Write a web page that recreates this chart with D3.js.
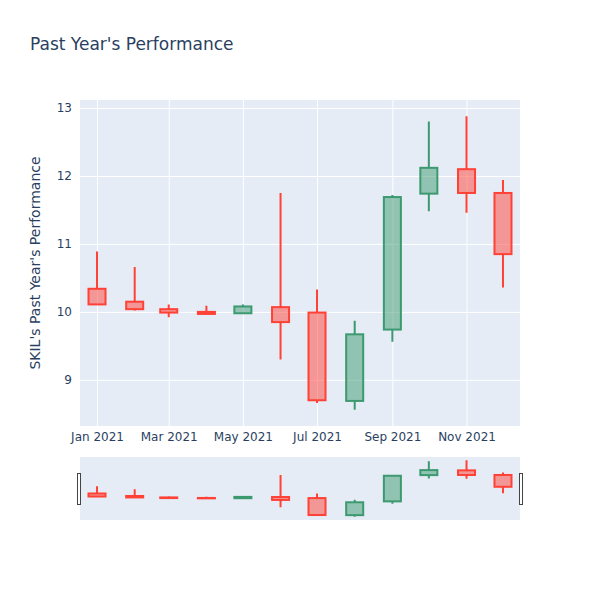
<!DOCTYPE html>
<html>
<head>
<meta charset="utf-8">
<script src="https://cdn.jsdelivr.net/npm/d3@7"></script>
<style>
  body { margin: 0; background: #fff; }
  text { font-family: "DejaVu Sans", "Open Sans", sans-serif; fill: #2a3f5f; }
</style>
</head>
<body>
<div id="chart"></div>
<script>
// monthly candles, first of each month
var dates = ["2021-01-01", "2021-02-01", "2021-03-01", "2021-04-01", "2021-05-01", "2021-06-01",
             "2021-07-01", "2021-08-01", "2021-09-01", "2021-10-01", "2021-11-01", "2021-12-01"];
var open  = [10.34, 10.15, 10.04, 10.00, 9.98, 10.07, 9.99, 8.69, 9.74, 11.74, 12.10, 11.75];
var high  = [10.89, 10.66, 10.11, 10.09, 10.11, 11.75, 10.33, 9.87, 11.72, 12.80, 12.88, 11.94];
var low   = [10.10, 10.02, 9.92, 9.96, 9.98, 9.30, 8.66, 8.56, 9.56, 11.48, 11.46, 10.36];
var close = [10.11, 10.04, 9.99, 9.97, 10.08, 9.85, 8.70, 9.67, 11.69, 12.12, 11.75, 10.85];
var yTicks = [9, 10, 11, 12, 13];
var xTickDates = ["2021-01-01", "2021-03-01", "2021-05-01", "2021-07-01", "2021-09-01", "2021-11-01"];

var parse = d3.timeParse("%Y-%m-%d");
var data = dates.map(function(d, i) {
    return {date: parse(d), open: open[i], high: high[i], low: low[i], close: close[i]};
});

var W = 600, H = 600;
var margin = {left: 80, right: 80, top: 100};
var plotH = 326, sliderTop = 457, sliderH = 63;

var incColor = "#3D9970", decColor = "#FF4136";
var halfDay = 14;  // half of the smallest gap between candles

var x = d3.scaleTime()
    .domain([d3.timeDay.offset(data[0].date, -halfDay), d3.timeDay.offset(data[data.length - 1].date, halfDay)])
    .range([margin.left, W - margin.right]);

var y = d3.scaleLinear()
    .domain([8.321, 13.118])
    .range([margin.top + plotH, margin.top]);

var ySlider = y.copy().range([sliderTop + sliderH, sliderTop]);

var svg = d3.select("#chart").append("svg")
    .attr("width", W)
    .attr("height", H);

svg.append("rect")
    .attr("x", margin.left).attr("y", margin.top)
    .attr("width", W - margin.left - margin.right).attr("height", plotH)
    .attr("fill", "#E5ECF6");

// grid
var xAxis = d3.axisBottom(x)
    .tickValues(xTickDates.map(parse))
    .tickFormat(d3.timeFormat("%b %Y"))
    .tickSize(-plotH)
    .tickPadding(6);

var yAxis = d3.axisLeft(y)
    .tickValues(yTicks)
    .tickFormat(d3.format("d"))
    .tickSize(-(W - margin.left - margin.right))
    .tickPadding(8);

function customAxis(g) {
    g.select(".domain").remove();
    g.selectAll(".tick line").attr("stroke", "#fff").attr("stroke-width", 1);
    g.selectAll(".tick text").style("font-size", "12px").attr("fill", "#2a3f5f");
}

svg.append("g")
    .attr("class", "xAxis")
    .attr("transform", "translate(0," + (margin.top + plotH) + ")")
    .call(xAxis)
    .call(customAxis);

svg.append("g")
    .attr("class", "yAxis")
    .attr("transform", "translate(" + margin.left + ",0)")
    .call(yAxis)
    .call(customAxis);

function candleColor(d) {
    return d.close >= d.open ? incColor : decColor;
}

function drawCandles(g, ys) {
    var candle = g.selectAll("g.candle")
        .data(data)
        .enter().append("g")
        .attr("class", "candle");

    // upper and lower wicks, stopping at the body
    candle.append("path")
        .attr("d", function(d) {
            var cx = x(d.date);
            return "M" + cx + "," + ys(d.high) + "V" + ys(Math.max(d.open, d.close)) +
                   "M" + cx + "," + ys(Math.min(d.open, d.close)) + "V" + ys(d.low);
        })
        .attr("fill", "none")
        .attr("stroke", candleColor)
        .attr("stroke-width", 2);

    candle.append("rect")
        .attr("x", function(d) { return x(d3.timeDay.offset(d.date, -7)); })
        .attr("width", function(d) { return x(d3.timeDay.offset(d.date, 7)) - x(d3.timeDay.offset(d.date, -7)); })
        .attr("y", function(d) { return ys(Math.max(d.open, d.close)); })
        .attr("height", function(d) { return Math.abs(ys(d.open) - ys(d.close)); })
        .attr("fill", candleColor)
        .attr("fill-opacity", 0.5)
        .attr("stroke", candleColor)
        .attr("stroke-width", 2);
}

drawCandles(svg.append("g"), y);

// range slider
svg.append("rect")
    .attr("x", margin.left).attr("y", sliderTop)
    .attr("width", W - margin.left - margin.right).attr("height", sliderH)
    .attr("fill", "#E5ECF6");

drawCandles(svg.append("g"), ySlider);

[margin.left - 1.5, W - margin.right + 0.5].forEach(function(hx) {
    svg.append("rect")
        .attr("x", hx - 1).attr("y", sliderTop + 16.5)
        .attr("width", 3).attr("height", 31)
        .attr("fill", "#fff")
        .attr("stroke", "#444")
        .attr("stroke-width", 1);
});

svg.append("text")
    .attr("x", 30).attr("y", 50)
    .style("font-size", "17px")
    .text("Past Year's Performance");

svg.append("text")
    .attr("transform", "translate(40," + (margin.top + plotH / 2) + ") rotate(-90)")
    .attr("text-anchor", "middle")
    .style("font-size", "14px")
    .text("SKIL's Past Year's Performance");
</script>
</body>
</html>
